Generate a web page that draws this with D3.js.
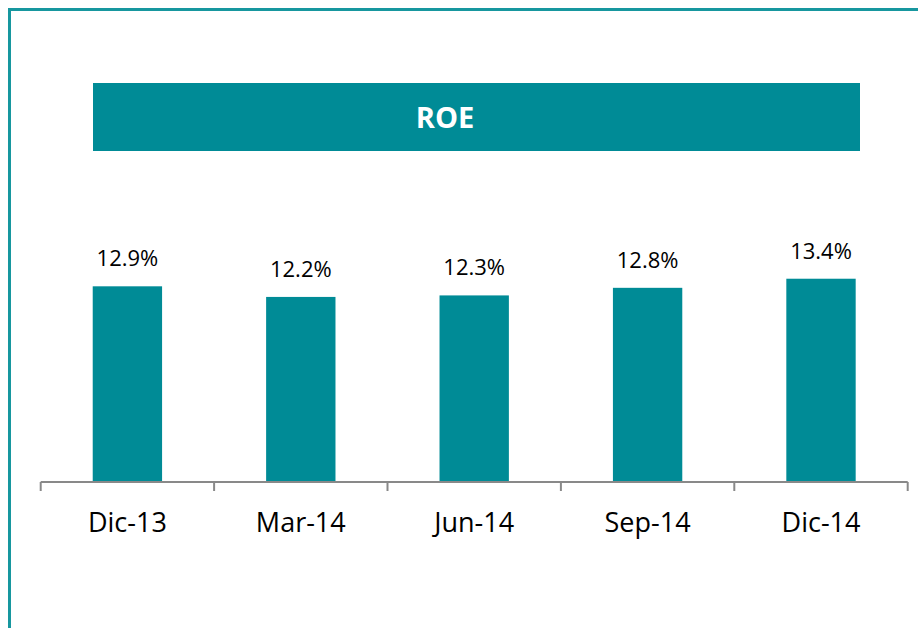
<!DOCTYPE html>
<html>
<head>
  <script src="https://cdn.jsdelivr.net/npm/d3@7"></script>
  <style>
    body { margin: 0; background: #fff; }
    text { font-family: "Open Sans", sans-serif; }
  </style>
</head>
<title>ROE</title>
<body>
  <script>
    var width = 918, height = 628;

    var periods = ["Dic-13", "Mar-14", "Jun-14", "Sep-14", "Dic-14"];
    var roe = [12.9, 12.2, 12.3, 12.8, 13.4];
    var title = "ROE";

    var teal = "#008b96";

    var svg = d3.select("body")
      .append("svg")
      .attr("width", width)
      .attr("height", height);

    // frame lines (top + left)
    svg.append("path")
      .attr("d", "M9.5," + height + "V9.5H" + width)
      .attr("fill", "none")
      .attr("stroke", "#17979f")
      .attr("stroke-width", 3);

    // title banner
    svg.append("rect")
      .attr("x", 93).attr("y", 83)
      .attr("width", 767).attr("height", 68)
      .attr("fill", teal);
    svg.append("text")
      .attr("x", 445).attr("y", 128)
      .attr("text-anchor", "middle")
      .style("font-size", "29px")
      .style("font-weight", "bold")
      .style("fill", "#fff")
      .text(title);

    var x = d3.scaleBand()
      .domain(periods)
      .range([40.7, 907.7])
      .paddingInner(0.6)
      .paddingOuter(0.3);

    var y = d3.scaleLinear()
      .domain([0, 14])
      .range([482, 482 - 15.17 * 14]);

    svg.append("g")
      .selectAll("rect")
      .data(roe)
      .enter().append("rect")
      .attr("x", (d, i) => x(periods[i]))
      .attr("y", d => y(d))
      .attr("width", x.bandwidth())
      .attr("height", d => y(0) - y(d))
      .attr("fill", teal);

    svg.append("g")
      .selectAll("text")
      .data(roe)
      .enter().append("text")
      .attr("x", (d, i) => x(periods[i]) + x.bandwidth() / 2)
      .attr("y", d => y(d) - 20)
      .attr("text-anchor", "middle")
      .style("font-size", "22px")
      .style("fill", "#000")
      .text(d => d.toFixed(1) + "%");

    // category axis with ticks at band boundaries
    var axis = svg.append("g").attr("transform", "translate(0,482)");
    var edges = periods.map(p => x(p) - x.step() * x.paddingInner() / 2);
    edges.push(x.range()[1]);
    edges[0] = x.range()[0];

    axis.append("line")
      .attr("x1", x.range()[0]).attr("x2", x.range()[1])
      .attr("stroke", "#898989").attr("stroke-width", 2);
    axis.selectAll(".tick")
      .data(edges)
      .enter().append("line")
      .attr("x1", d => d).attr("x2", d => d)
      .attr("y1", 0).attr("y2", 9)
      .attr("stroke", "#898989").attr("stroke-width", 2);
    axis.selectAll(".lbl")
      .data(periods)
      .enter().append("text")
      .attr("x", d => x(d) + x.bandwidth() / 2)
      .attr("y", 50)
      .attr("text-anchor", "middle")
      .style("font-size", "27px")
      .style("fill", "#000")
      .text(d => d);
  </script>
</body>
</html>
